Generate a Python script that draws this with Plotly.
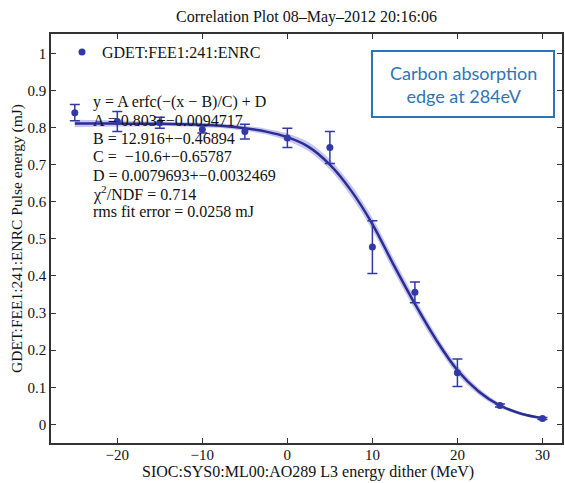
import plotly.graph_objects as go

# measured points
dither_mev = [-25, -20, -15, -10, -5, 0, 5, 10, 15, 20, 25, 30]
pulse_mj = [0.840, 0.816, 0.813, 0.795, 0.789, 0.772, 0.746, 0.478, 0.356, 0.139, 0.051, 0.016]
pulse_err = [0.022, 0.027, 0.015, 0.010, 0.020, 0.026, 0.043, 0.071, 0.028, 0.037, 0.004, 0.003]

# fitted curve
fit_x = [-25, -22.5, -20, -17.5, -15, -12.5, -10, -7.5, -5, -2.5, 0, 2.5, 5, 7.5,
         10, 12.5, 15, 17.5, 20, 22.5, 25, 27.5, 30]
fit_y = [0.811, 0.811, 0.811, 0.810, 0.810, 0.809, 0.807, 0.804, 0.798, 0.789, 0.774,
         0.748, 0.700, 0.630, 0.540, 0.430, 0.325, 0.228, 0.146, 0.089, 0.051, 0.029, 0.017]
band_w = [0.010, 0.009, 0.008, 0.007, 0.006, 0.006, 0.006, 0.006, 0.007, 0.008, 0.010,
          0.012, 0.014, 0.016, 0.017, 0.017, 0.016, 0.014, 0.012, 0.009, 0.006, 0.004, 0.003]

x_ticks = [-20, -10, 0, 10, 20, 30]
y_ticks = [0, 0.1, 0.2, 0.3, 0.4, 0.5, 0.6, 0.7, 0.8, 0.9, 1]

fit_lines = [
    "y = A erfc(−(x − B)/C) + D",
    "A = 0.803+−0.0094717",
    "B = 12.916+−0.46894",
    "C =  −10.6+−0.65787",
    "D = 0.0079693+−0.0032469",
    "χ<sup>2</sup>/NDF = 0.714",
    "rms fit error = 0.0258 mJ",
]

SERIF = "Liberation Serif"
BLUE = "#3238a8"
LINE = "#2a2d96"

band_hi = [y + w for y, w in zip(fit_y, band_w)]
band_lo = [y - w for y, w in zip(fit_y, band_w)]

fig = go.Figure()
fig.add_trace(go.Scatter(x=fit_x, y=band_hi, mode="lines", line=dict(width=0, shape="spline"),
                         showlegend=False, hoverinfo="skip"))
fig.add_trace(go.Scatter(x=fit_x, y=band_lo, mode="lines", line=dict(width=0, shape="spline"),
                         fill="tonexty", fillcolor="rgba(130,130,215,0.45)",
                         showlegend=False, hoverinfo="skip"))
fig.add_trace(go.Scatter(x=fit_x, y=fit_y, mode="lines",
                         line=dict(color=LINE, width=2.5, shape="spline"),
                         showlegend=False))
fig.add_trace(go.Scatter(x=dither_mev, y=pulse_mj, mode="markers",
                         name="GDET:FEE1:241:ENRC",
                         marker=dict(color=BLUE, size=7),
                         error_y=dict(type="data", array=pulse_err, color=BLUE,
                                      thickness=1.5, width=5)))

W, H = 511, 409
def px(v): return (v - 51) / W
def py(v): return (443 - v) / H

# fit text, one annotation per line
line_y0 = 102
line_dy = 18.3
for i, t in enumerate(fit_lines):
    fig.add_annotation(x=px(91), y=py(line_y0 + i * line_dy), xref="paper", yref="paper",
                       text=t, showarrow=False, xanchor="left", yanchor="middle",
                       font=dict(family=SERIF, size=16, color="#111111"))

# note box
fig.add_shape(type="rect", xref="paper", yref="paper",
              x0=px(372), x1=px(554), y0=py(117), y1=py(51),
              line=dict(color="#2e75b6", width=2), fillcolor="white")
fig.add_annotation(x=px(463), y=py(84), xref="paper", yref="paper",
                   text="Carbon absorption<br>edge at 284eV", showarrow=False,
                   font=dict(family="Lato", size=18, color="#2e75b6"),
                   xanchor="center", yanchor="middle")

# x axis title
fig.add_annotation(x=px(308), y=py(472), xref="paper", yref="paper",
                   text="SIOC:SYS0:ML00:AO289 L3 energy dither (MeV)", showarrow=False,
                   xanchor="center", yanchor="middle",
                   font=dict(family=SERIF, size=16, color="#111111"))

fig.update_layout(
    width=565, height=483,
    margin=dict(l=51, r=3, t=34, b=40, autoexpand=False),
    paper_bgcolor="white", plot_bgcolor="white",
    title=dict(text="Correlation Plot 08–May–2012 20:16:06", x=(51 + W / 2) / 565,
               xanchor="center", y=1 - 16 / 483, yanchor="middle",
               font=dict(family=SERIF, size=16, color="#111111")),
    showlegend=True,
    legend=dict(x=px(62), y=py(35), xanchor="left", yanchor="top",
                bgcolor="rgba(0,0,0,0)", font=dict(family=SERIF, size=16, color="#111111"),
                itemwidth=30),
    font=dict(family=SERIF, size=15, color="#111111"),
)
fig.update_xaxes(range=[-27.8, 32.3], tickvals=x_ticks, ticks="inside", ticklen=5,
                 showline=True, linecolor="#333333", linewidth=1.5, mirror="ticks",
                 showgrid=False, zeroline=False, tickcolor="#333333",
                 ticklabelstandoff=-3,
                 tickfont=dict(family=SERIF, size=15))
fig.update_yaxes(range=[-0.05, 1.052], tickvals=y_ticks, ticks="inside", ticklen=5,
                 showline=True, linecolor="#333333", linewidth=1.5, mirror="ticks",
                 showgrid=False, zeroline=False, tickcolor="#333333",
                 tickfont=dict(family=SERIF, size=15),
                 title=dict(text="GDET:FEE1:241:ENRC Pulse energy (mJ)",
                            font=dict(family=SERIF, size=15.5), standoff=1))

fig.write_html("out.html", config={"displayModeBar": False},
               post_script="document.body.style.margin='0px';")
